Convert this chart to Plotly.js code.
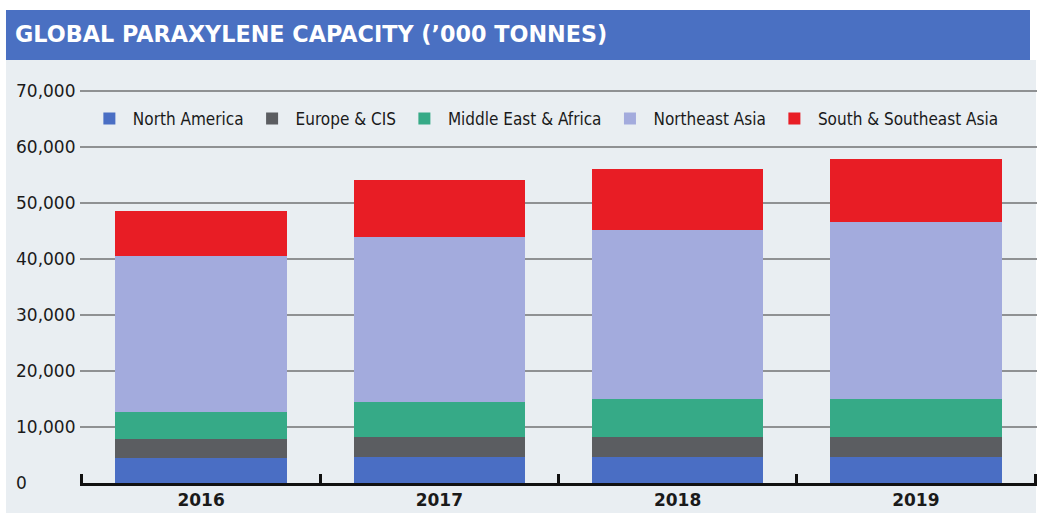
<!DOCTYPE html>
<html>
<head>
<meta charset="utf-8">
<script src="https://cdn.plot.ly/plotly-3.0.1.min.js"></script>
<style>html,body{margin:0;padding:0;background:#fff;}#chart{width:1038px;height:513px;}</style>
</head>
<body>
<div id="chart"></div>
<script>
const years = ['2016', '2017', '2018', '2019'];
const northAmerica = [4400, 4700, 4600, 4600];
const europeCIS = [3400, 3600, 3700, 3700];
const middleEastAfrica = [4900, 6200, 6700, 6700];
const northeastAsia = [27900, 29500, 30200, 31600];
const southSoutheastAsia = [7900, 10200, 10900, 11200];
const seriesNames = ['North America', 'Europe & CIS', 'Middle East & Africa', 'Northeast Asia', 'South & Southeast Asia'];
const seriesColors = ['#4a6ec4', '#5b5d61', '#36aa87', '#a3abdd', '#e81d25'];
const yTicks = [0, 10000, 20000, 30000, 40000, 50000, 60000, 70000];

const values = [northAmerica, europeCIS, middleEastAfrica, northeastAsia, southSoutheastAsia];
const traces = values.map((v, i) => ({
  type: 'bar',
  name: seriesNames[i],
  x: years,
  y: v,
  marker: {color: seriesColors[i], line: {width: 0}},
  width: 0.72,
  hoverinfo: 'x+y+name'
}));

const bg = '#e9eef2';
const layout = {
  width: 1038, height: 513,
  margin: {l: 12, r: 0, t: 90, b: 30, pad: 0},
  paper_bgcolor: '#ffffff',
  plot_bgcolor: 'rgba(0,0,0,0)',
  barmode: 'stack',
  showlegend: true,
  title: {
    text: "GLOBAL PARAXYLENE CAPACITY (’000 TONNES)",
    font: {family: 'DejaVu Sans, sans-serif', size: 22.3, color: '#ffffff', weight: 'bold'},
    xref: 'paper', x: 0.003, xanchor: 'left',
    yref: 'container', y: 1 - 34 / 513, yanchor: 'middle'
  },
  shapes: [
    {type: 'rect', xref: 'paper', yref: 'paper', x0: -0.00585, x1: 0.99805, y0: -0.0763, y1: 1.0763,
     fillcolor: bg, line: {width: 0}, layer: 'below'},
    {type: 'rect', xref: 'paper', yref: 'paper', x0: -0.00585, x1: 0.99220, y0: 1.0763, y1: 1.2036,
     fillcolor: '#4a70c2', line: {width: 0}, layer: 'below'}
  ],
  xaxis: {
    type: 'category',
    domain: [0.0659, 0.9994],
    range: [-0.51, 3.51],
    tickson: 'boundaries',
    ticks: 'inside', ticklen: 9, tickwidth: 3, tickcolor: '#111111',
    showline: true, linecolor: '#111111', linewidth: 2.5,
    layer: 'below traces',
    showgrid: false,
    tickfont: {family: 'DejaVu Sans, sans-serif', size: 17, color: '#1a1a1a', weight: 'bold'},
    fixedrange: true
  },
  yaxis: {
    anchor: 'free', position: 0,
    range: [0, 70200],
    tickmode: 'array', tickvals: yTicks,
    ticktext: yTicks.map(v => v.toLocaleString('en-US')),
    ticklabelposition: 'inside',
    ticklabeloverflow: 'allow',
    ticks: '', showline: false, zeroline: false,
    showgrid: true, gridcolor: '#8f9193', gridwidth: 2,
    tickfont: {family: 'DejaVu Sans, sans-serif', size: 17, color: '#1a1a1a'},
    fixedrange: true
  },
  legend: {
    orientation: 'h', traceorder: 'normal',
    x: 0.072, xanchor: 'left', y: 0.9262, yanchor: 'middle',
    itemwidth: 37,
    bgcolor: 'rgba(0,0,0,0)',
    font: {family: 'DejaVu Sans Condensed, Liberation Sans, sans-serif', size: 17, color: '#1a1a1a'}
  }
};

Plotly.newPlot('chart', traces, layout, {displayModeBar: false, staticPlot: true});
</script>
</body>
</html>
